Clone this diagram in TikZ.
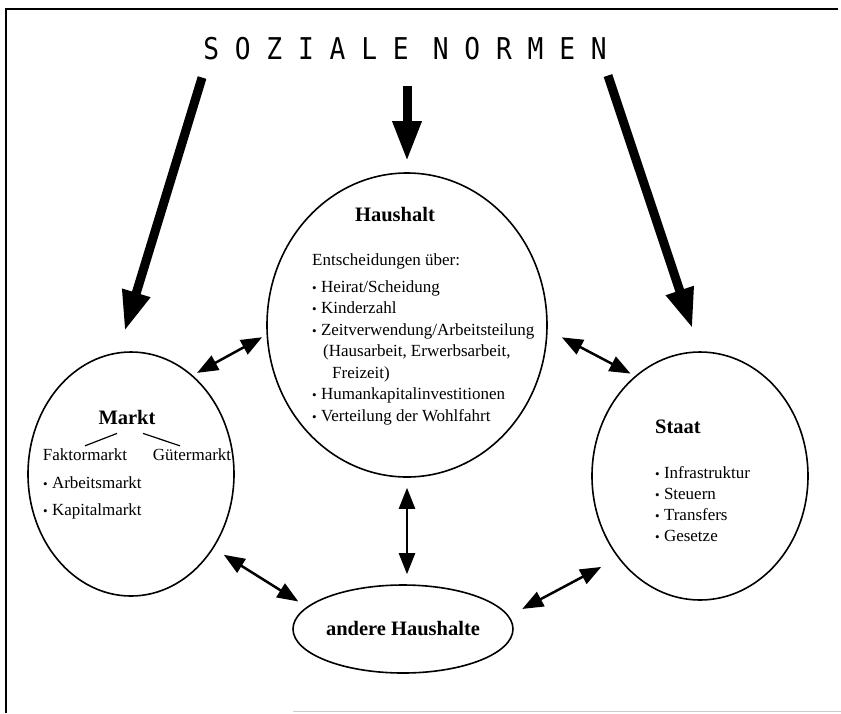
\documentclass[tikz,border=0pt]{standalone}
\usepackage{fontspec}
\setmainfont{Liberation Serif}
\newfontfamily\normenfont[FakeStretch=0.875]{DejaVu Sans Mono}
\usetikzlibrary{arrows.meta,shapes.geometric,calc}
\newcommand{\pkt}{{\fontsize{13}{13}\selectfont\textbullet}~}

\begin{document}
\begin{tikzpicture}[x=1pt, y=-1pt,
  sphere/.style={draw, ellipse, line width=1.6pt, inner sep=0pt},
  titel/.style={font=\fontsize{20.5}{24}\selectfont\bfseries, inner sep=0pt},
  txt/.style={font=\fontsize{17}{21.5}\selectfont, align=left, inner sep=0pt},
  bigarr/.style={-{Triangle[length=40pt,width=27pt]}, line width=9pt},
  dblarr/.style={{Triangle[length=21pt,width=16pt]}-{Triangle[length=21pt,width=16pt]}, line width=2.5pt}]
\useasboundingbox (0,0) rectangle (841,713);
% Rahmen
\draw[line width=2pt] (6,713) -- (6,9) -- (838,9);
\draw[black!20, line width=1pt] (293,711) -- (841,711);
% Ueberschrift
\node[inner sep=0pt, font=\normenfont\fontsize{30}{30}\selectfont] (normen) at (405,49)
  {S O Z I A L E\hspace{24.2pt}N O R M E N};
% Kreise
\node[sphere, minimum width=280pt, minimum height=304pt] (haushalt) at (407,325) {};
\node[sphere, minimum width=206pt, minimum height=244pt] (markt) at (131,474) {};
\node[sphere, minimum width=216pt, minimum height=248pt] (staat) at (700,476) {};
\node[sphere, titel, minimum width=220pt, minimum height=88pt] (andere) at (403,629) {andere Haushalte};
% Haushalt
\node[titel] (hhtitel) at (395,215) {Haushalt};
\node[txt, anchor=north west] (hhliste) at (312,253) {Entscheidungen über:\\[5.5pt]
  \pkt Heirat/Scheidung\\
  \pkt Kinderzahl\\
  \pkt Zeitverwendung/Arbeitsteilung\\
  \hspace*{11pt}(Hausarbeit, Erwerbsarbeit,\\
  \hspace*{20pt}Freizeit)\\
  \pkt Humankapitalinvestitionen\\
  \pkt Verteilung der Wohlfahrt};
% Markt
\node[titel] (mtitel) at (127,417) {Markt};
\node[txt] (faktor) at (85,455) {Faktormarkt};
\node[txt] (gueter) at (192,455) {Gütermarkt};
\node[txt, anchor=north west] (mliste) at (43,476) {\pkt Arbeitsmarkt\\[5.5pt] \pkt Kapitalmarkt};
\draw[line width=1.2pt] ([xshift=-10pt,yshift=-9pt]mtitel.south) -- ([yshift=3pt]faktor.north);
\draw[line width=1.2pt] ([xshift=16pt,yshift=-9pt]mtitel.south) -- ([xshift=-12pt,yshift=3pt]gueter.north);
% Staat
\node[titel] (sttitel) at (678,427) {Staat};
\node[txt, anchor=north west, font=\fontsize{17}{21}\selectfont] (stliste) at (655,466)
  {\pkt Infrastruktur\\ \pkt Steuern\\ \pkt Transfers\\ \pkt Gesetze};
% soziale Normen wirken auf alle
\draw[bigarr, shorten >=22pt] ([xshift=-1pt,yshift=-17pt]normen.south west) -- (markt.96);
\draw[bigarr, shorten >=11pt] ([xshift=2pt,yshift=-25pt]normen.south) -- (haushalt.north);
\draw[bigarr, shorten >=24pt] ([xshift=1pt,yshift=-15pt]normen.south east) -- (staat.north);
% Wechselwirkungen
\draw[dblarr, shorten <=5pt, shorten >=5pt] (markt.58) -- (haushalt.184);
\draw[dblarr, shorten <=5pt, shorten >=16pt] (staat.123) -- (haushalt.-2);
\draw[dblarr, shorten <=10pt, shorten >=10pt] (haushalt.south) -- (haushalt.south |- andere.north);
\draw[dblarr, shorten <=12pt, shorten >=10pt] (markt.-42) -- (andere.167);
\draw[dblarr, shorten <=15pt, shorten >=19pt] (andere.7) -- (staat.225);
\end{tikzpicture}
\end{document}
